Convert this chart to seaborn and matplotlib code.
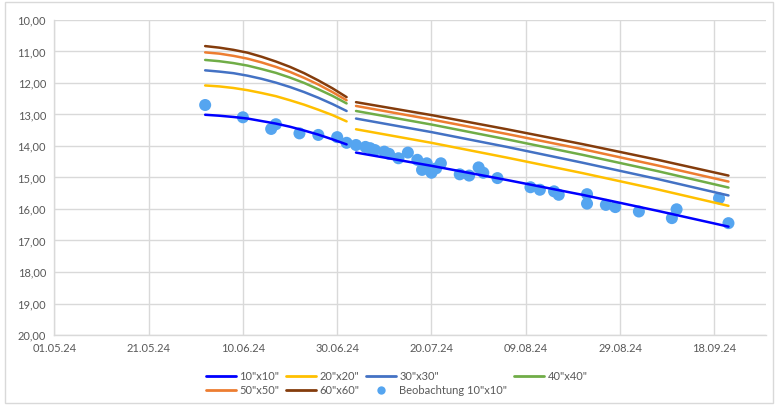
import pandas as pd
import numpy as np
import matplotlib
matplotlib.use('Agg')
import matplotlib.pyplot as plt
import matplotlib.dates as mdates
from matplotlib.lines import Line2D
from matplotlib.patches import Rectangle
import seaborn as sns

# Kurven, Abschnitt 1 (Juni) und Abschnitt 2 (Juli-September)
seg1_dates = ['02.06.24', '05.06.24', '08.06.24', '11.06.24', '14.06.24', '17.06.24',
              '20.06.24', '23.06.24', '26.06.24', '29.06.24', '02.07.24']
seg2_dates = ['04.07.24', '20.07.24', '05.08.24', '21.08.24', '06.09.24', '21.09.24']

s10_1 = [13.01, 13.04, 13.08, 13.13, 13.21, 13.29, 13.39, 13.51, 13.64, 13.79, 13.95]
s20_1 = [12.08, 12.11, 12.16, 12.23, 12.32, 12.42, 12.55, 12.69, 12.85, 13.02, 13.22]
s30_1 = [11.60, 11.64, 11.69, 11.77, 11.87, 11.99, 12.13, 12.29, 12.47, 12.67, 12.89]
s40_1 = [11.27, 11.31, 11.37, 11.45, 11.56, 11.68, 11.83, 12.00, 12.20, 12.41, 12.65]
s50_1 = [11.03, 11.07, 11.14, 11.23, 11.35, 11.49, 11.65, 11.84, 12.05, 12.29, 12.55]
s60_1 = [10.83, 10.88, 10.95, 11.04, 11.17, 11.32, 11.49, 11.69, 11.92, 12.17, 12.45]

s10_2 = [14.21, 14.63, 15.08, 15.55, 16.06, 16.56]
s20_2 = [13.47, 13.90, 14.37, 14.86, 15.38, 15.90]
s30_2 = [13.13, 13.56, 14.03, 14.53, 15.05, 15.57]
s40_2 = [12.89, 13.32, 13.79, 14.28, 14.80, 15.32]
s50_2 = [12.73, 13.16, 13.62, 14.10, 14.62, 15.13]
s60_2 = [12.61, 13.02, 13.47, 13.94, 14.44, 14.94]

labels = ['10"x10"', '20"x20"', '30"x30"', '40"x40"', '50"x50"', '60"x60"']
colors = ['#0000FF', '#FFC000', '#4472C4', '#70AD47', '#ED7D31', '#843C0C']

# Beobachtungen 10"x10"
obs_dates = ['02.06.24', '10.06.24', '16.06.24', '17.06.24', '22.06.24', '26.06.24', '30.06.24',
             '02.07.24', '04.07.24', '06.07.24', '07.07.24', '08.07.24', '10.07.24', '11.07.24',
             '13.07.24', '15.07.24',
             '17.07.24', '18.07.24', '19.07.24', '20.07.24', '21.07.24', '22.07.24', '26.07.24',
             '28.07.24', '30.07.24', '31.07.24', '03.08.24', '10.08.24', '12.08.24', '15.08.24',
             '16.08.24', '22.08.24', '22.08.24', '26.08.24', '28.08.24', '02.09.24', '09.09.24',
             '10.09.24', '19.09.24', '21.09.24']
obs_vals = [12.70, 13.09, 13.46, 13.31, 13.60, 13.65, 13.72,
            13.90, 13.97, 14.03, 14.07, 14.13, 14.18, 14.25,
            14.39, 14.21,
            14.44, 14.76, 14.55, 14.85, 14.71, 14.55, 14.90,
            14.94, 14.68, 14.85, 15.02, 15.31, 15.39, 15.44,
            15.55, 15.53, 15.83, 15.87, 15.94, 16.08, 16.29,
            16.01, 15.66, 16.45]

fmt = '%d.%m.%y'
d1 = pd.to_datetime(seg1_dates, format=fmt)
d2 = pd.to_datetime(seg2_dates, format=fmt)
obs = pd.DataFrame({'Datum': pd.to_datetime(obs_dates, format=fmt), 'Wert': obs_vals})

seg1 = [s10_1, s20_1, s30_1, s40_1, s50_1, s60_1]
seg2 = [s10_2, s20_2, s30_2, s40_2, s50_2, s60_2]

sns.set_style('white')
plt.rcParams['font.family'] = ['Lato', 'DejaVu Sans']

fig = plt.figure(figsize=(7.78, 4.05), dpi=100)
ax = fig.add_axes([0.0698, 0.1728, 0.915, 0.778])

grid_c = '#D9D9D9'
text_c = '#595959'

sns.scatterplot(data=obs, x='Datum', y='Wert', color='#55A5F0', s=75, edgecolor='none',
                ax=ax, zorder=3, legend=False)

for lab, col, a, b in zip(labels, colors, seg1, seg2):
    sns.lineplot(x=d1, y=a, color=col, linewidth=1.8, ax=ax, zorder=4)
    sns.lineplot(x=d2, y=b, color=col, linewidth=1.8, ax=ax, zorder=4)

ax.set_ylim(20, 10)
ax.set_yticks(np.arange(10, 21, 1))
ax.set_yticklabels([f'{v:.2f}'.replace('.', ',') for v in np.arange(10, 21, 1)])
ax.set_xlim(pd.Timestamp('2024-05-01'), pd.Timestamp('2024-09-29'))
ax.set_xticks(pd.date_range('2024-05-01', '2024-09-18', freq='20D'))
ax.xaxis.set_major_formatter(mdates.DateFormatter('%d.%m.%y'))
ax.set_xlabel('')
ax.set_ylabel('')

ax.grid(True, color=grid_c, linewidth=1)
ax.set_axisbelow(True)
for sp in ['top', 'right']:
    ax.spines[sp].set_visible(False)
for sp in ['left', 'bottom']:
    ax.spines[sp].set_color(grid_c)
    ax.spines[sp].set_linewidth(1)
ax.tick_params(axis='both', length=0, labelsize=8, colors=text_c, pad=6)

handles = [Line2D([0], [0], color=c, linewidth=2) for c in colors]
handles.append(Line2D([0], [0], marker='o', linestyle='none', color='#55A5F0',
                      markersize=6, markeredgewidth=0))
names = labels + ['Beobachtung 10"x10"']
order = [0, 4, 1, 5, 2, 6, 3]
leg = fig.legend([handles[i] for i in order], [names[i] for i in order], ncol=4,
                 loc='center', bbox_to_anchor=(0.51, 0.053), frameon=False, fontsize=8,
                 handlelength=2.7, handletextpad=0.3, columnspacing=0.6, labelspacing=0.25)
for t in leg.get_texts():
    t.set_color(text_c)

fig.patches.append(Rectangle((0.006, 0.005), 0.988, 0.99, transform=fig.transFigure,
                             fill=False, edgecolor=grid_c, linewidth=1))

plt.savefig('out.png', dpi=100)
